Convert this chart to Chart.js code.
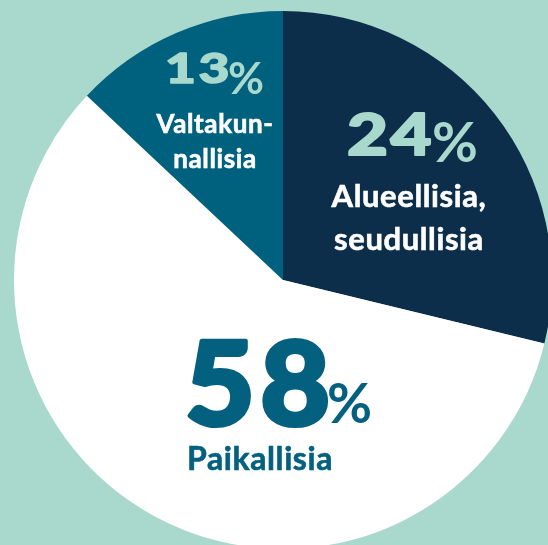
<!DOCTYPE html>
<html>
<head>
<meta charset="utf-8">
<script src="https://cdn.jsdelivr.net/npm/chart.js@4"></script>
<style>
  html, body { margin: 0; padding: 0; width: 548px; height: 545px; overflow: hidden; background: #a9d8cd; }
  #wrap { position: absolute; left: 14px; top: 11px; width: 538px; height: 538px; }
</style>
</head>
<body>
<div id="wrap"><canvas id="pieChart" width="538" height="538"></canvas></div>
<script>
'use strict';
// slices clockwise from 12 o'clock, sizes
const categories = ['Alueellisia, seudullisia', 'Paikallisia', 'Valtakunnallisia']
const sliceValues = [28.8, 58.2, 13]
const shownPct = ['24', '58', '13']
const sliceColors = ['#0d2e4a', '#ffffff', '#00617f']

const mint = '#a9d8cd'
const teal = '#03607f'
const FONT = 'Lato, "Open Sans", sans-serif'

// wide heavy digits: stretched horizontally and a bit of stroke for weight
function drawNum(ctx, txt, x, y, size, hScale, color) {
  ctx.save()
  ctx.fillStyle = color
  ctx.strokeStyle = color
  ctx.lineWidth = size * 0.035
  ctx.lineJoin = 'round'
  ctx.textAlign = 'left'
  ctx.textBaseline = 'alphabetic'
  ctx.font = '900 ' + size + 'px ' + FONT
  ctx.letterSpacing = Math.round(size * 0.04) + 'px'
  ctx.translate(x, y)
  ctx.scale(hScale, 1)
  ctx.fillText(txt, 0, 0)
  ctx.strokeText(txt, 0, 0)
  ctx.restore()
}

function drawSign(ctx, x, y, size, color) {
  ctx.save()
  ctx.fillStyle = color
  ctx.textAlign = 'left'
  ctx.textBaseline = 'alphabetic'
  ctx.font = '700 ' + size + 'px ' + FONT
  ctx.fillText('%', x, y)
  ctx.restore()
}

function drawLines(ctx, lines, x, y, lineH, size, color, align) {
  ctx.save()
  ctx.fillStyle = color
  ctx.strokeStyle = color
  ctx.lineWidth = 0.6
  ctx.textAlign = align
  ctx.textBaseline = 'alphabetic'
  ctx.font = '700 ' + size + 'px ' + FONT
  ctx.letterSpacing = '0.6px'
  lines.forEach((t, i) => {
    ctx.fillText(t, x, y + i * lineH)
    ctx.strokeText(t, x, y + i * lineH)
  })
  ctx.restore()
}

const labelPlugin = {
  id: 'sliceLabels',
  afterDatasetsDraw(chart) {
    const ctx = chart.ctx
    const arc = chart.getDatasetMeta(0).data[0]
    const cx = arc.x
    const cy = arc.y
    // 13% Valtakunnallisia
    drawNum(ctx, shownPct[2], cx - 118, cy - 197, 41, 1.3, mint)
    drawSign(ctx, cx - 55, cy - 186, 44, mint)
    drawLines(ctx, ['Valtakun-', 'nallisia'], cx - 68, cy - 147, 35, 26, '#ffffff', 'center')
    // 24% Alueellisia
    drawNum(ctx, shownPct[0], cx + 64, cy - 125, 58, 1.22, mint)
    drawSign(ctx, cx + 149, cy - 118, 56, mint)
    drawLines(ctx, ['Alueellisia,', 'seudullisia'], cx + 126, cy - 73, 43, 31, '#ffffff', 'center')
    // 58% Paikallisia
    drawNum(ctx, shownPct[1], cx - 98, cy + 145, 116, 1.04, teal)
    drawSign(ctx, cx + 44, cy + 143, 55, teal)
    drawLines(ctx, ['Paikallisia'], cx - 96, cy + 190, 0, 32, teal, 'left')
  }
}

const pieChart = new Chart(document.getElementById('pieChart'), {
  type: 'pie',
  data: {
    labels: categories,
    datasets: [{
      data: sliceValues,
      backgroundColor: sliceColors,
      borderWidth: 0
    }]
  },
  options: {
    responsive: false,
    animation: false,
    layout: { padding: 0 },
    plugins: {
      legend: { display: false },
      tooltip: { enabled: false }
    }
  },
  plugins: [labelPlugin]
})
</script>
</body>
</html>
